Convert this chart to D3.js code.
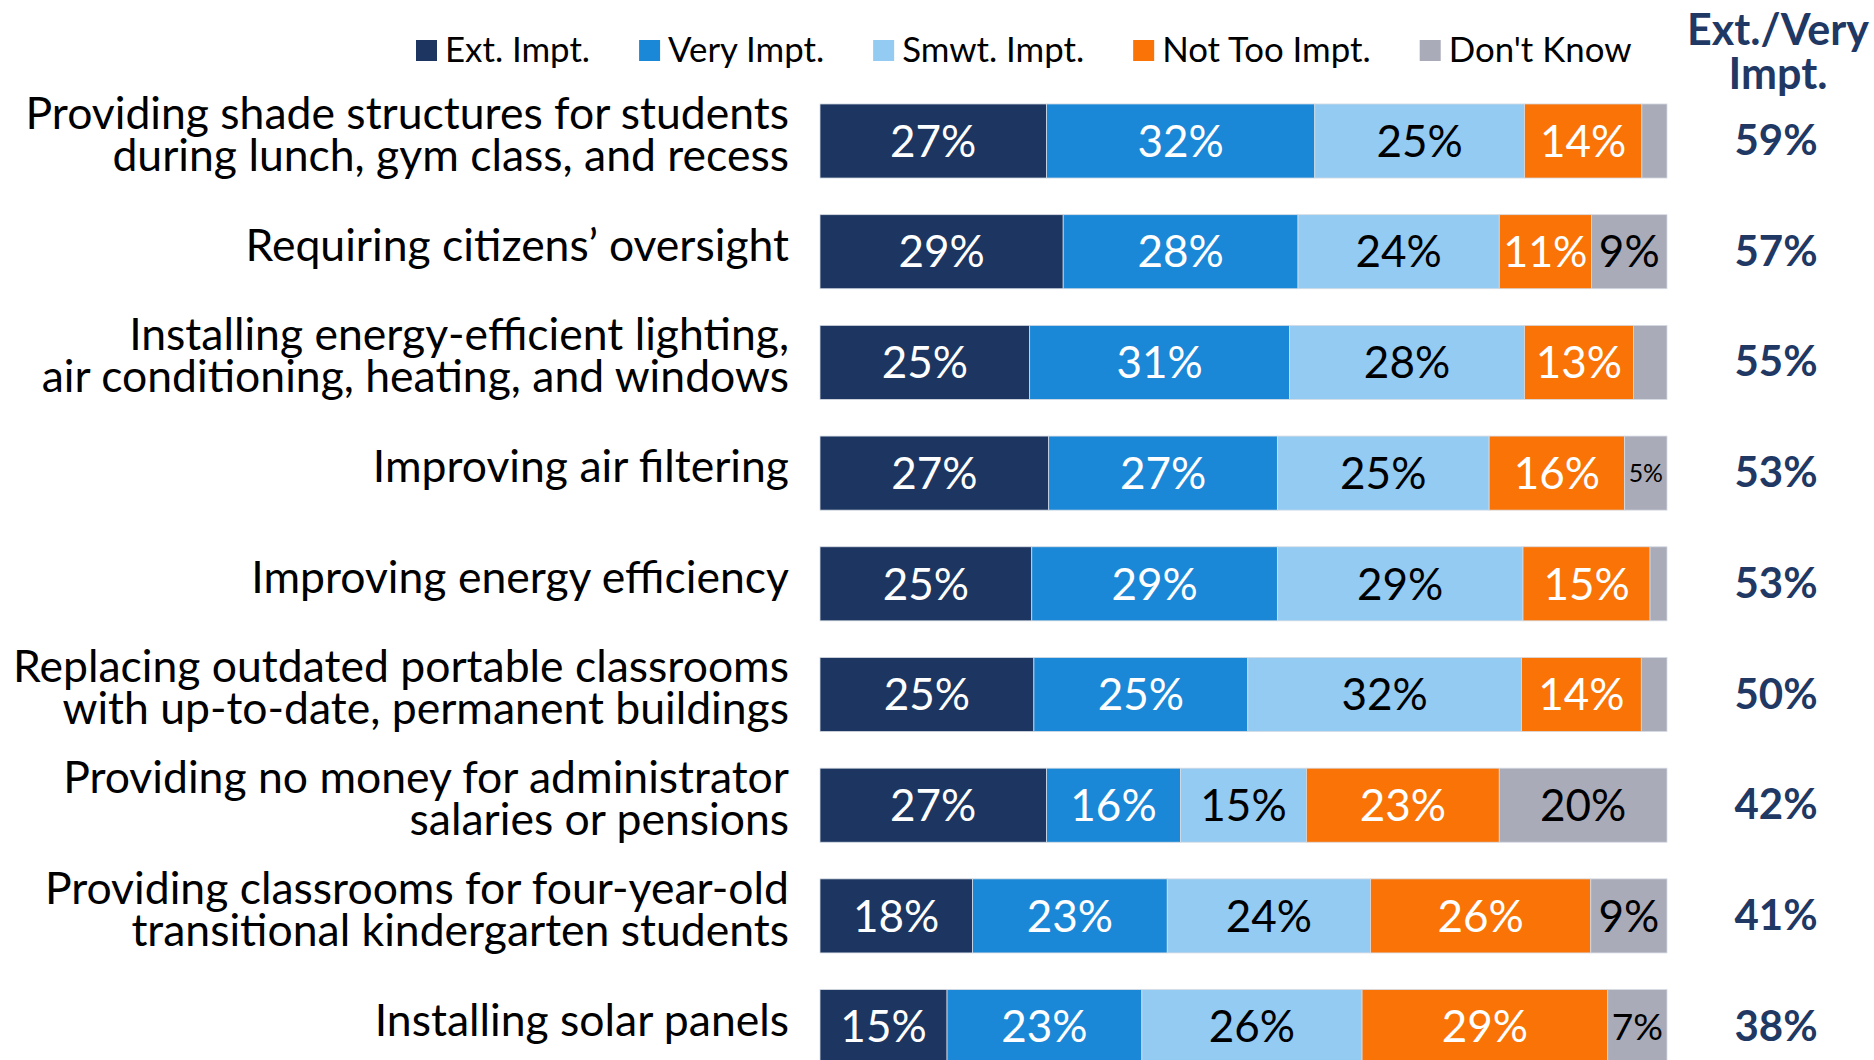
<!DOCTYPE html>
<html><head><meta charset="utf-8">
<script src="https://cdn.jsdelivr.net/npm/d3@7/dist/d3.min.js"></script>
<style>body{margin:0;background:#fff;} svg{display:block;}</style>
</head><body><svg id="c" width="1874" height="1060"></svg>
<script>
// ---------- DATA ----------
const categoryLines = [
  ["Providing shade structures for students", "during lunch, gym class, and recess"],
  ["Requiring citizens\u2019 oversight"],
  ["Installing energy-efficient lighting,", "air conditioning, heating, and windows"],
  ["Improving air filtering"],
  ["Improving energy efficiency"],
  ["Replacing outdated portable classrooms", "with up-to-date, permanent buildings"],
  ["Providing no money for administrator", "salaries or pensions"],
  ["Providing classrooms for four-year-old", "transitional kindergarten students"],
  ["Installing solar panels"]
];
const categories = categoryLines.map(l => l.join(" "));
const seriesNames = ["Ext. Impt.", "Very Impt.", "Smwt. Impt.", "Not Too Impt.", "Don't Know"];
const extImpt     = [27, 29, 25, 27, 25, 25, 27, 18, 15];
const veryImpt    = [32, 28, 31, 27, 29, 25, 16, 23, 23];
const smwtImpt    = [25, 24, 28, 25, 29, 32, 15, 24, 26];
const notTooImpt  = [14, 11, 13, 16, 15, 14, 23, 26, 29];
const dontKnow    = [ 3,  9,  4,  5,  2,  3, 20,  9,  7];
const extVeryTotal = [59, 57, 55, 53, 53, 50, 42, 41, 38];
const totalHeaderLines = ["Ext./Very", "Impt."];

// ---------- STYLE ----------
const colors = ["#1C3661", "#1A88D7", "#93CBF3", "#F97306", "#A9ABB8"];
const labelColors = ["#fff", "#fff", "#000", "#fff", "#000"];
const navy = "#1F3864";
const FONT = "Lato, 'Open Sans', sans-serif";
const CAP = 0.717; // cap height ratio for Lato

const svg = d3.select("#c");
const seriesArrays = [extImpt, veryImpt, smwtImpt, notTooImpt, dontKnow];
const rows = categories.map((c, i) => {
  const r = {cat: c};
  seriesNames.forEach((s, j) => r[s] = seriesArrays[j][i]);
  return r;
});
const stacked = d3.stack().keys(seriesNames).offset(d3.stackOffsetExpand)(rows);

const x = d3.scaleLinear().domain([0, 1]).range([820, 1667]);
const y = d3.scaleBand().domain(categories).range([85.65, 1081.95])
  .paddingInner(0.331).paddingOuter(0.1655);
const bw = y.bandwidth();

// bars
const g = svg.append("g");
stacked.forEach((layer, j) => {
  const lg = g.append("g");
  lg.selectAll("rect").data(layer).join("rect")
    .attr("x", d => x(d[0]))
    .attr("y", d => y(d.data.cat))
    .attr("width", d => x(d[1]) - x(d[0]))
    .attr("height", bw)
    .attr("fill", colors[j])
    .attr("stroke", "#d6dbe3")
    .attr("stroke-width", 0.8);
});

// value labels
const baseVal = 44;
stacked.forEach((layer, j) => {
  layer.forEach(d => {
    const v = d.data[seriesNames[j]];
    if (v < 5) return;
    const segW = x(d[1]) - x(d[0]);
    const cx = (x(d[0]) + x(d[1])) / 2;
    const cy = y(d.data.cat) + bw / 2;
    const t = g.append("text")
      .attr("x", cx).attr("text-anchor", "middle")
      .attr("font-family", FONT).attr("font-size", baseVal)
      .attr("fill", labelColors[j])
      .text(v + "%");
    let fs = baseVal;
    const w = t.node().getComputedTextLength();
    if (w > segW - 8) fs = baseVal * (segW - 8) / w;
    t.attr("font-size", fs).attr("y", cy + fs * CAP / 2);
  });
});

// category labels
const labFs = 44.5;
categoryLines.forEach((lines, i) => {
  const cy = y(categories[i]) + bw / 2 - 7;
  const n = lines.length;
  lines.forEach((ln, k) => {
    const capCenter = cy + (k - (n - 1) / 2) * 42;
    svg.append("text")
      .attr("x", 789).attr("y", capCenter + labFs * CAP / 2)
      .attr("text-anchor", "end")
      .attr("font-family", FONT).attr("font-size", labFs)
      .attr("fill", "#000")
      .text(ln);
  });
});

// right totals
const totFs = 42;
extVeryTotal.forEach((v, i) => {
  const cy = y(categories[i]) + bw / 2;
  svg.append("text")
    .attr("x", 1776).attr("y", cy + totFs * CAP / 2 - 1)
    .attr("text-anchor", "middle")
    .attr("font-family", FONT).attr("font-weight", "bold").attr("font-size", totFs)
    .attr("fill", navy)
    .text(v + "%");
});
// header
totalHeaderLines.forEach((ln, k) => {
  svg.append("text")
    .attr("x", 1778).attr("y", 45 + k * 44)
    .attr("text-anchor", "middle")
    .attr("font-family", FONT).attr("font-weight", "bold").attr("font-size", 43)
    .attr("fill", navy)
    .text(ln);
});

// legend
let lx = 416;
const legFs = 34.8;
seriesNames.forEach((s, j) => {
  svg.append("rect").attr("x", lx).attr("y", 40).attr("width", 21).attr("height", 21)
    .attr("fill", colors[j]);
  const t = svg.append("text").attr("x", lx + 29).attr("y", 61.5)
    .attr("font-family", FONT).attr("font-size", legFs).attr("fill", "#000").text(s);
  lx = lx + 29 + t.node().getComputedTextLength() + 49;
});
</script>
</body></html>
